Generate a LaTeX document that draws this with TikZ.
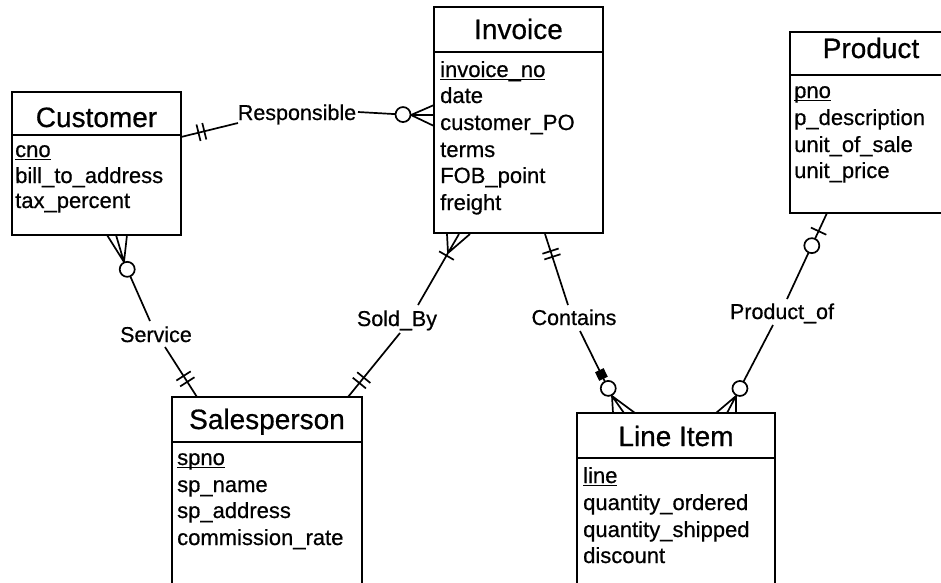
\documentclass[tikz,border=0pt]{standalone}
\usepackage{fontspec}
\setmainfont{Liberation Sans}[FakeBold=0.6]
\usetikzlibrary{calc}
\newcommand\keyu[1]{\setbox0\hbox{#1}\rlap{\rule[-3pt]{\wd0}{1.5pt}}\box0}
\newcommand\erbar[4]{%
  \coordinate (#4) at ($(#1)!#3!(#2)$);
  \draw[conn] ($(#4)!8.5pt!90:(#2)$) -- ($(#4)!8.5pt!-90:(#2)$);}
\newcommand\ercirc[4]{%
  \coordinate (#4) at ($(#1)!#3!(#2)$);
  \draw[conn, fill=white] (#4) circle[radius=7.5pt];}
\tikzset{
  ent/.style={draw, line width=1.7pt, anchor=north west, inner sep=0pt, outer sep=0pt},
  ttl/.style={anchor=base, inner sep=0pt, font=\fontsize{28}{30}\selectfont},
  att/.style={anchor=base west, inner sep=0pt, font=\fontsize{22}{24}\selectfont},
  rel/.style={anchor=base, inner sep=0pt, font=\fontsize{21.5}{24}\selectfont},
  conn/.style={line width=1.7pt},
}
\begin{document}
\begin{tikzpicture}[x=1pt, y=-1pt]
\clip (0,0) rectangle (941,582);
\fill[white] (0,0) rectangle (941,582);

% ---------- Customer ----------
\node[ent, minimum width=169pt, minimum height=143pt] (cust) at (12,92) {};
\draw[conn] (12,135) -- (181,135);
\node[ttl] (custT) at (96.5,127) {Customer};
\node[att] (cust1) at (15,157) {\keyu{cno}};
\node[att] (cust2) at (15,183) {bill\_to\_address};
\node[att] (cust3) at (15,208) {tax\_percent};

% ---------- Invoice ----------
\node[ent, minimum width=169pt, minimum height=226pt] (inv) at (434,7) {};
\draw[conn] (434,52) -- (603,52);
\node[ttl] (invT) at (518.5,39) {Invoice};
\node[att] (inv1) at (440,77) {\keyu{invoice\_no}};
\node[att] (inv2) at (440,103) {date};
\node[att] (inv3) at (440,130) {customer\_PO};
\node[att] (inv4) at (440,157) {terms};
\node[att] (inv5) at (440,183) {FOB\_point};
\node[att] (inv6) at (440,210) {freight};

% ---------- Product ----------
\node[ent, minimum width=170pt, minimum height=181pt] (prod) at (790,32) {};
\draw[conn] (790,75) -- (960,75);
\node[ttl] (prodT) at (871,58) {Product};
\node[att] (prod1) at (794,98) {\keyu{pno}};
\node[att] (prod2) at (794,125) {p\_description};
\node[att] (prod3) at (794,152) {unit\_of\_sale};
\node[att] (prod4) at (794,178) {unit\_price};

% ---------- Salesperson ----------
\node[ent, minimum width=190pt, minimum height=200pt] (sales) at (172,397) {};
\draw[conn] (172,442) -- (362,442);
\node[ttl] (salesT) at (267,429) {Salesperson};
\node[att] (sales1) at (177,465) {\keyu{spno}};
\node[att] (sales2) at (177,492) {sp\_name};
\node[att] (sales3) at (177,518) {sp\_address};
\node[att] (sales4) at (177,545) {commission\_rate};

% ---------- Line Item ----------
\node[ent, minimum width=198pt, minimum height=200pt] (li) at (577,413) {};
\draw[conn] (577,458) -- (775,458);
\node[ttl] (liT) at (676,446) {Line Item};
\node[att] (li1) at (583,483) {\keyu{line}};
\node[att] (li2) at (583,510) {quantity\_ordered};
\node[att] (li3) at (583,537) {quantity\_shipped};
\node[att] (li4) at (583,563) {discount};

% ---------- relationship labels ----------
\node[rel] (lResp) at (297,120) {Responsible};
\node[rel] (lServ) at (156,342) {Service};
\node[rel] (lSold) at (397,326) {Sold\_By};
\node[rel] (lCont) at (574,325) {Contains};
\node[rel] (lProd) at (782,319) {Product\_of};

% ---------- Responsible ----------
\coordinate (r1) at (181,137);
\coordinate (r2) at (238,123);
\coordinate (r3) at (358,112);
\coordinate (r4) at (411,115);
\coordinate (rt1) at (434,105);
\coordinate (rt2) at (434,115);
\coordinate (rt3) at (434,126);
\draw[conn] (r1) -- (r2);
\erbar{r1}{r2}{18pt}{rb1}
\erbar{r1}{r2}{24pt}{rb2}
\draw[conn] (r3) -- (r4);
\draw[conn] (r4) -- (rt1) (r4) -- (rt2) (r4) -- (rt3);
\ercirc{r4}{r3}{8pt}{rc}

% ---------- Service ----------
\coordinate (s1) at (124,262);
\coordinate (s2) at (150,321);
\coordinate (s3) at (165,347);
\coordinate (s4) at (197,397);
\coordinate (st1) at (107,235);
\coordinate (st2) at (116,235);
\coordinate (st3) at (127,235);
\draw[conn] (s1) -- (s2);
\draw[conn] (s1) -- (st1) (s1) -- (st2) (s1) -- (st3);
\ercirc{s1}{s2}{8pt}{sc}
\draw[conn] (s3) -- (s4);
\erbar{s4}{s3}{18pt}{sb1}
\erbar{s4}{s3}{25pt}{sb2}

% ---------- Sold_By ----------
\coordinate (b1) at (448,253);
\coordinate (b2) at (418,305);
\coordinate (b3) at (400,333);
\coordinate (b4) at (348,397);
\coordinate (bt1) at (447,234);
\coordinate (bt2) at (459,234);
\coordinate (bt3) at (470,234);
\draw[conn] (b1) -- (b2);
\draw[conn] (b1) -- (bt1) (b1) -- (bt2) (b1) -- (bt3);
\erbar{b1}{b2}{3pt}{bb0}
\draw[conn] (b3) -- (b4);
\erbar{b4}{b3}{18pt}{bb1}
\erbar{b4}{b3}{25pt}{bb2}

% ---------- Contains ----------
\coordinate (c1) at (545,234);
\coordinate (c2) at (568,305);
\coordinate (c3) at (580,331);
\coordinate (c4) at (612,396);
\coordinate (ct1) at (613,413);
\coordinate (ct2) at (624,413);
\coordinate (ct3) at (635,413);
\draw[conn] (c1) -- (c2);
\erbar{c1}{c2}{18pt}{cb1}
\erbar{c1}{c2}{24pt}{cb2}
\draw[conn] (c3) -- (c4);
\draw[conn] (c4) -- (ct1) (c4) -- (ct2) (c4) -- (ct3);
\ercirc{c4}{c3}{8.5pt}{cc}
\coordinate (csq) at ($(c4)!24pt!(c3)$);
\node[fill=black, minimum size=9.5pt, inner sep=0pt, rotate=26] (csqn) at (csq) {};

% ---------- Product_of ----------
\coordinate (p1) at (827,213);
\coordinate (p2) at (787,299);
\coordinate (p3) at (773,325);
\coordinate (p4) at (736,396);
\coordinate (pt1) at (716,413);
\coordinate (pt2) at (727,413);
\coordinate (pt3) at (736,413);
\draw[conn] (p1) -- (p2);
\erbar{p1}{p2}{20pt}{pb1}
\ercirc{p1}{p2}{36pt}{pc1}
\draw[conn] (p3) -- (p4);
\draw[conn] (p4) -- (pt1) (p4) -- (pt2) (p4) -- (pt3);
\ercirc{p4}{p3}{8.5pt}{pc2}
\end{tikzpicture}
\end{document}
